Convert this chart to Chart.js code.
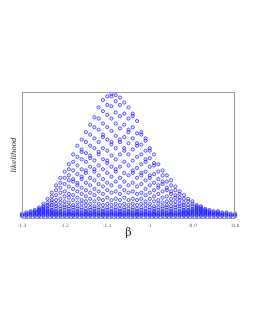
<!DOCTYPE html>
<html>
<head>
<meta charset="utf-8">
<script src="https://cdn.jsdelivr.net/npm/chart.js@4.4.1/dist/chart.umd.min.js"></script>
<style>
  body { margin: 0; background: #fff; }
  #wrap { width: 255px; height: 330px; }
</style>
</head>
<body>
<div id="wrap"><canvas id="myChart"></canvas></div>
<script>
// beta grid (one column of points per value)
const betaValues = [
  -1.30, -1.29, -1.28, -1.27, -1.26, -1.25, -1.24, -1.23, -1.22, -1.21,
  -1.20, -1.19, -1.18, -1.17, -1.16, -1.15, -1.14, -1.13, -1.12, -1.11,
  -1.10, -1.09, -1.08, -1.07, -1.06, -1.05, -1.04, -1.03, -1.02, -1.01,
  -1.00, -0.99, -0.98, -0.97, -0.96, -0.95, -0.94, -0.93, -0.92, -0.91,
  -0.90, -0.89, -0.88, -0.87, -0.86, -0.85, -0.84, -0.83, -0.82, -0.81, -0.80
];

// likelihood values read per column (0..100 of the plot height)
const likelihoodColumns = [
  [0, 1, 2],
  [0, 1, 2, 3],
  [0, 1, 2, 3, 4],
  [0, 1, 2, 3, 4, 5],
  [0, 1, 2, 3, 4, 5, 6, 7],
  [0, 1, 2, 3, 4, 5, 6, 7, 8, 10],
  [0, 1, 2, 3, 4, 5, 6, 8, 9, 11, 14],
  [0, 1, 2, 3, 4, 5, 7, 9, 11, 13, 16, 19],
  [0, 1, 2, 3, 4, 6, 8, 10, 13, 17, 21, 25],
  [0, 1, 2, 3, 4, 6, 8, 11, 14, 19, 23, 27, 31],
  [0, 1, 2, 3, 5, 7, 9, 12, 16, 20, 26, 31, 36],
  [0, 1, 2, 3, 4, 6, 8, 11, 15, 18, 24, 29, 33, 38, 42],
  [0, 1, 2, 3, 5, 7, 9, 13, 17, 22, 28, 30, 37, 44, 50],
  [0, 1, 2, 3, 4, 6, 8, 11, 15, 20, 25, 27, 34, 41, 48, 57],
  [0, 1, 2, 3, 5, 7, 10, 13, 18, 23, 30, 32, 38, 46, 52, 54, 62],
  [0, 1, 2, 3, 4, 6, 9, 12, 16, 21, 27, 35, 37, 44, 51, 60, 68],
  [0, 1, 2, 3, 5, 7, 10, 14, 19, 25, 31, 40, 47, 49, 57, 66, 74],
  [0, 1, 2, 3, 4, 6, 8, 12, 17, 22, 29, 36, 38, 45, 55, 63, 72, 80],
  [0, 1, 2, 3, 5, 7, 10, 14, 20, 26, 33, 41, 50, 52, 60, 70, 79, 88],
  [0, 1, 2, 3, 4, 6, 9, 13, 18, 24, 30, 38, 46, 55, 64, 66, 75, 85, 94],
  [0, 1, 2, 3, 5, 7, 10, 15, 21, 27, 35, 43, 45, 53, 62, 72, 82, 90, 97],
  [0, 1, 2, 3, 4, 6, 9, 13, 19, 25, 32, 40, 49, 58, 60, 69, 79, 89, 97, 99],
  [0, 1, 2, 3, 5, 7, 10, 14, 20, 28, 36, 38, 46, 55, 65, 75, 84, 93, 98],
  [0, 1, 2, 3, 4, 6, 9, 13, 18, 24, 31, 40, 50, 60, 62, 71, 81, 90, 96],
  [0, 1, 2, 3, 5, 7, 10, 15, 21, 28, 35, 44, 53, 55, 64, 74, 83, 92],
  [0, 1, 2, 3, 4, 6, 9, 13, 19, 25, 33, 41, 50, 59, 68, 70, 79, 88],
  [0, 1, 2, 3, 5, 7, 10, 14, 20, 27, 35, 37, 45, 54, 63, 72, 81, 83],
  [0, 1, 2, 3, 4, 6, 9, 13, 18, 24, 31, 39, 48, 57, 59, 67, 77],
  [0, 1, 2, 3, 5, 7, 10, 14, 19, 26, 33, 35, 42, 50, 58, 66, 68],
  [0, 1, 2, 3, 4, 6, 9, 12, 17, 22, 29, 36, 44, 46, 53, 61, 63],
  [0, 1, 2, 3, 5, 7, 10, 14, 19, 25, 31, 33, 40, 47, 53, 55],
  [0, 1, 2, 3, 4, 6, 8, 12, 16, 21, 27, 34, 41, 43, 50],
  [0, 1, 2, 3, 5, 7, 10, 13, 18, 23, 25, 30, 36, 42],
  [0, 1, 2, 3, 4, 6, 8, 11, 15, 20, 26, 28, 33, 37],
  [0, 1, 2, 3, 5, 7, 9, 12, 16, 21, 23, 28, 33],
  [0, 1, 2, 3, 4, 6, 8, 11, 14, 18, 20, 25, 29],
  [0, 1, 2, 3, 5, 7, 9, 12, 15, 17, 21, 24],
  [0, 1, 2, 3, 4, 6, 8, 10, 13, 15, 18, 20],
  [0, 1, 2, 3, 4, 5, 7, 9, 11, 14, 17],
  [0, 1, 2, 3, 4, 5, 7, 9, 12, 14],
  [0, 1, 2, 3, 4, 5, 6, 8, 10, 12],
  [0, 1, 2, 3, 4, 5, 6, 7, 8, 9],
  [0, 1, 2, 3, 4, 5, 6, 7, 8],
  [0, 1, 2, 3, 4, 5, 6],
  [0, 1, 2, 3, 4, 5],
  [0, 1, 2, 3, 4],
  [0, 1, 2, 3, 4],
  [0, 1, 2, 3],
  [0, 1, 2, 3],
  [0, 1, 2],
  [0, 1, 2]
];

const tickValues = [-1.3, -1.2, -1.1, -1.0, -0.9, -0.8];
const tickLabels = ['-1.3', '-1.2', '-1.1', '-1', '-0.9', '-0.8'];

const points = [];
betaValues.forEach((b, i) => {
  likelihoodColumns[i].forEach(v => points.push({ x: b, y: v }));
});

// grey box round the plot area
const framePlugin = {
  id: 'frame',
  afterDraw(chart) {
    const { ctx, chartArea: a } = chart;
    ctx.save();
    ctx.strokeStyle = '#9a9a9a';
    ctx.lineWidth = 1;
    ctx.strokeRect(a.left + 0.5, a.top + 0.5, a.right - a.left - 1, a.bottom - a.top);
    ctx.restore();
  }
};

const ctx = document.getElementById('myChart').getContext('2d');
const myChart = new Chart(ctx, {
  type: 'scatter',
  data: {
    datasets: [{
      data: points,
      pointStyle: 'circle',
      pointRadius: 1.6,
      pointBorderWidth: 1,
      borderColor: 'rgba(0, 0, 255, 0.6)',
      backgroundColor: 'rgba(90, 90, 255, 0.15)',
      clip: false
    }]
  },
  options: {
    responsive: true,
    maintainAspectRatio: false,
    animation: false,
    events: [],
    layout: { padding: { left: 0, top: 92, right: 20, bottom: 88 } },
    plugins: { legend: { display: false }, tooltip: { enabled: false } },
    scales: {
      x: {
        type: 'linear',
        min: -1.3,
        max: -0.8,
        afterBuildTicks: s => { s.ticks = tickValues.map(v => ({ value: v })); },
        afterFit: s => { s.height = 24; },
        grid: { display: false, drawTicks: false },
        border: { display: false },
        ticks: {
          padding: 5,
          maxRotation: 0,
          color: '#555',
          font: { family: 'DejaVu Serif', size: 4.5 },
          callback: (v, i) => tickLabels[i]
        },
        title: {
          display: true,
          text: 'β',
          color: '#222',
          font: { family: 'DejaVu Serif', size: 11 },
          padding: { top: 0, bottom: 2 }
        }
      },
      y: {
        min: -1.5,
        max: 100.5,
        afterFit: s => { s.width = 22; },
        grid: { display: false },
        border: { display: false },
        ticks: { display: false },
        title: {
          display: true,
          text: 'likelihood',
          color: '#222',
          font: { family: 'DejaVu Serif', size: 7, style: 'italic' },
          padding: { top: 10, bottom: 0 }
        }
      }
    }
  },
  plugins: [framePlugin]
});
</script>
</body>
</html>
